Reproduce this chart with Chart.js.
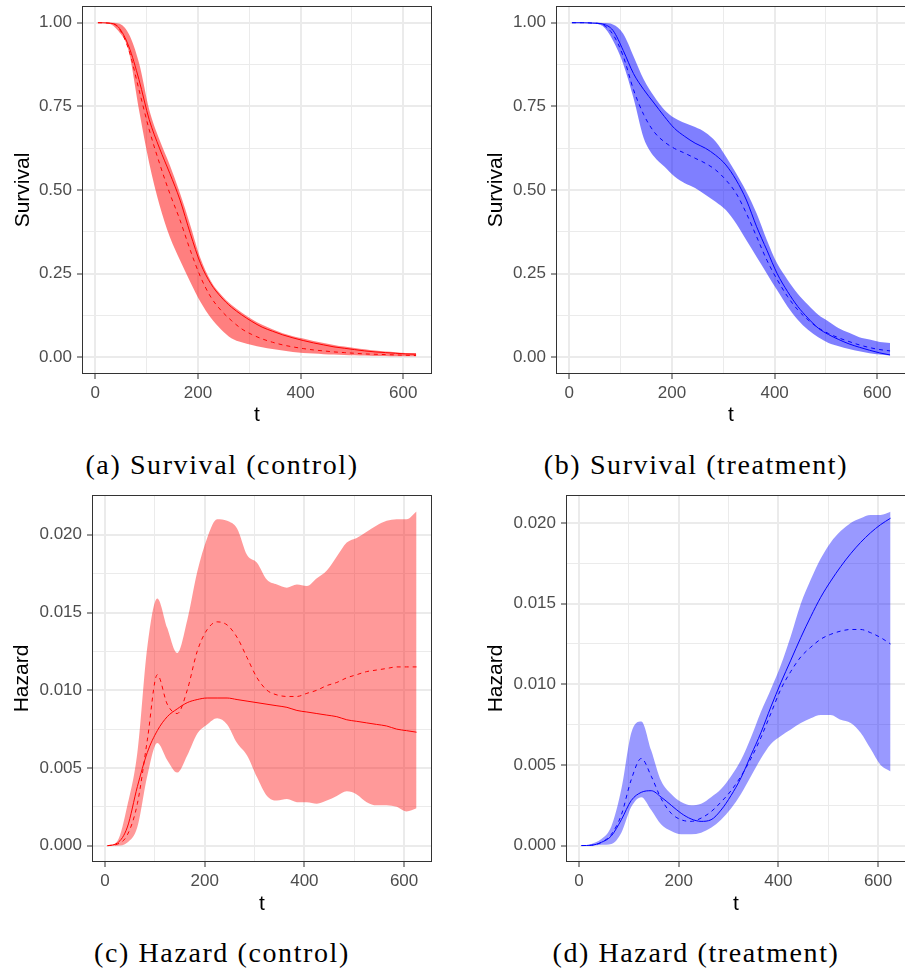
<!DOCTYPE html>
<html>
<head>
<meta charset="utf-8">
<script src="https://cdn.jsdelivr.net/npm/chart.js@4.4.1/dist/chart.umd.min.js"></script>
<style>
  html, body { margin: 0; padding: 0; background: #ffffff; }
  body { position: relative; width: 905px; height: 974px; overflow: hidden; }
  canvas { position: absolute; }
  .caption {
    position: absolute;
    width: 420px;
    text-align: center;
    font-family: "Liberation Serif", "Times New Roman", serif;
    font-size: 28px;
    line-height: 28px;
    letter-spacing: 1.6px;
    color: #000000;
    white-space: nowrap;
  }
</style>
</head>
<body>
<canvas id="survCtrl" width="452" height="430" style="left:0px;top:0px"></canvas>
<canvas id="survTrt" width="460" height="430" style="left:452px;top:0px"></canvas>
<canvas id="hazCtrl" width="452" height="430" style="left:0px;top:490px"></canvas>
<canvas id="hazTrt" width="460" height="430" style="left:452px;top:490px"></canvas>

<div class="caption" style="left:12px;top:451px">(a) Survival (control)</div>
<div class="caption" style="left:486px;top:451px">(b) Survival (treatment)</div>
<div class="caption" style="left:12px;top:939px">(c) Hazard (control)</div>
<div class="caption" style="left:486px;top:939px">(d) Hazard (treatment)</div>

<script>
// time points the curves were read at
const tGrid = [5, 25, 45, 65, 85, 105, 125, 145, 165, 185, 205, 225, 245, 265, 285, 305,
               325, 345, 365, 385, 405, 425, 445, 465, 485, 505, 525, 545, 565, 585, 605, 625];

// axis ticks (major ones get labels, the rest are minor grid lines)
const tTicks = [0, 100, 200, 300, 400, 500, 600];
const survTicks = [0, 0.125, 0.25, 0.375, 0.5, 0.625, 0.75, 0.875, 1];
const hazTicks = [0, 0.0025, 0.005, 0.0075, 0.01, 0.0125, 0.015, 0.0175, 0.02];

// (a) survival, control
const survCtrlSolid = [1.000, 0.999, 0.987, 0.930, 0.830, 0.710, 0.625, 0.550, 0.470, 0.370, 0.280, 0.220, 0.180, 0.150, 0.127, 0.107,
                       0.090, 0.078, 0.067, 0.058, 0.050, 0.043, 0.037, 0.031, 0.027, 0.023, 0.019, 0.016, 0.014, 0.012, 0.010, 0.009];
const survCtrlDashed = [1.000, 0.999, 0.985, 0.920, 0.800, 0.680, 0.580, 0.490, 0.410, 0.320, 0.240, 0.180, 0.140, 0.110, 0.085, 0.068,
                        0.055, 0.045, 0.037, 0.031, 0.026, 0.022, 0.019, 0.016, 0.014, 0.012, 0.010, 0.009, 0.008, 0.007, 0.006, 0.005];
const survCtrlLower = [1.000, 0.998, 0.975, 0.915, 0.740, 0.580, 0.455, 0.360, 0.290, 0.225, 0.165, 0.118, 0.083, 0.057, 0.045, 0.037,
                       0.030, 0.025, 0.020, 0.016, 0.013, 0.011, 0.009, 0.008, 0.007, 0.006, 0.005, 0.004, 0.004, 0.003, 0.003, 0.003];
const survCtrlUpper = [1.000, 1.000, 0.998, 0.967, 0.880, 0.740, 0.650, 0.575, 0.490, 0.395, 0.295, 0.228, 0.187, 0.157, 0.134, 0.114,
                       0.097, 0.084, 0.072, 0.063, 0.056, 0.049, 0.043, 0.037, 0.032, 0.028, 0.024, 0.020, 0.017, 0.015, 0.013, 0.013];

// (b) survival, treatment
const survTrtSolid = [1.000, 1.000, 0.999, 0.996, 0.977, 0.917, 0.848, 0.800, 0.760, 0.720, 0.684, 0.660, 0.640, 0.625, 0.604, 0.575,
                      0.530, 0.470, 0.390, 0.320, 0.250, 0.197, 0.152, 0.117, 0.087, 0.068, 0.053, 0.040, 0.030, 0.021, 0.013, 0.007];
const survTrtDashed = [1.000, 1.000, 0.999, 0.994, 0.965, 0.900, 0.800, 0.725, 0.674, 0.644, 0.624, 0.610, 0.595, 0.580, 0.560, 0.530,
                       0.490, 0.430, 0.360, 0.290, 0.232, 0.182, 0.142, 0.112, 0.088, 0.071, 0.058, 0.047, 0.037, 0.029, 0.023, 0.019];
const survTrtLower = [1.000, 1.000, 0.998, 0.990, 0.947, 0.877, 0.775, 0.655, 0.600, 0.570, 0.540, 0.520, 0.506, 0.486, 0.465, 0.440,
                      0.400, 0.350, 0.300, 0.250, 0.200, 0.152, 0.112, 0.082, 0.060, 0.043, 0.033, 0.025, 0.018, 0.012, 0.008, 0.005];
const survTrtUpper = [1.000, 1.000, 1.000, 0.999, 0.995, 0.967, 0.900, 0.830, 0.780, 0.740, 0.715, 0.700, 0.688, 0.672, 0.645, 0.600,
                      0.550, 0.495, 0.430, 0.350, 0.280, 0.232, 0.190, 0.157, 0.127, 0.107, 0.087, 0.073, 0.060, 0.053, 0.046, 0.043];

// (c) hazard, control
const hazCtrlSolid = [0, 0.00017, 0.0012, 0.0038, 0.0060, 0.0074, 0.0083, 0.0088, 0.0092, 0.0094, 0.0095, 0.0095, 0.0095, 0.0094, 0.0093, 0.0092,
                      0.0091, 0.0090, 0.0089, 0.0087, 0.0086, 0.0085, 0.0084, 0.0083, 0.0081, 0.0080, 0.0079, 0.0078, 0.0077, 0.0075, 0.0074, 0.0073];
const hazCtrlDashed = [0, 0.0001, 0.0007, 0.0027, 0.0068, 0.0110, 0.0091, 0.0085, 0.0100, 0.0125, 0.0139, 0.0144, 0.0142, 0.0134, 0.0121, 0.0108,
                       0.0100, 0.0097, 0.0096, 0.0096, 0.0098, 0.0100, 0.0103, 0.0105, 0.0108, 0.0110, 0.0112, 0.0113, 0.0114, 0.0115, 0.0115, 0.0115];
const hazCtrlLower = [0, 0, 0.0002, 0.0012, 0.0045, 0.0066, 0.0055, 0.0047, 0.0058, 0.0072, 0.0078, 0.0082, 0.0078, 0.0066, 0.0058, 0.0044,
                      0.0032, 0.0029, 0.0030, 0.0028, 0.0028, 0.0027, 0.0029, 0.0032, 0.0035, 0.0033, 0.0028, 0.0026, 0.0026, 0.0025, 0.0022, 0.0024];
const hazCtrlUpper = [0, 0.0003, 0.0026, 0.0060, 0.0128, 0.0159, 0.0140, 0.0124, 0.0145, 0.0176, 0.0198, 0.0210, 0.0209, 0.0204, 0.0187, 0.0182,
                      0.0171, 0.0168, 0.0166, 0.0168, 0.0167, 0.0172, 0.0177, 0.0186, 0.0195, 0.0198, 0.0202, 0.0206, 0.0209, 0.0210, 0.0210, 0.0215];

// (d) hazard, treatment
const hazTrtSolid = [0, 0.00002, 0.0002, 0.0006, 0.0016, 0.0028, 0.0033, 0.0034, 0.0030, 0.0025, 0.0020, 0.00165, 0.0015, 0.0016, 0.0022, 0.0031,
                     0.0042, 0.0056, 0.0070, 0.0086, 0.0101, 0.0115, 0.0129, 0.0142, 0.0154, 0.0164, 0.0173, 0.0181, 0.0188, 0.0194, 0.0199, 0.0203];
const hazTrtDashed = [0, 0.00002, 0.0002, 0.0007, 0.0019, 0.0041, 0.0054, 0.0043, 0.0029, 0.0020, 0.0016, 0.0015, 0.0017, 0.0021, 0.0027, 0.0034,
                      0.0043, 0.0054, 0.0067, 0.0082, 0.0097, 0.0108, 0.0117, 0.0123, 0.0128, 0.0131, 0.0133, 0.0134, 0.0134, 0.0132, 0.0129, 0.0125];
const hazTrtLower = [0, 0, 0.00005, 0.0001, 0.0008, 0.0024, 0.0030, 0.0022, 0.0013, 0.0009, 0.0007, 0.0007, 0.0008, 0.0011, 0.0016, 0.0023,
                     0.0032, 0.0043, 0.0054, 0.0063, 0.0068, 0.0072, 0.0076, 0.0079, 0.0081, 0.0081, 0.0078, 0.0076, 0.0070, 0.0060, 0.0050, 0.0046];
const hazTrtUpper = [0, 0.0001, 0.0004, 0.0012, 0.0035, 0.0070, 0.0077, 0.0059, 0.0040, 0.0032, 0.0027, 0.0025, 0.0026, 0.0030, 0.0035, 0.0043,
                     0.0053, 0.0067, 0.0083, 0.0097, 0.0112, 0.0130, 0.0150, 0.0165, 0.0178, 0.0188, 0.0195, 0.0200, 0.0203, 0.0205, 0.0205, 0.0207];

Chart.defaults.font.family = '"Liberation Sans", Arial, Helvetica, sans-serif';
Chart.defaults.devicePixelRatio = 1;

// ggplot style panel frame
const panelBorder = {
  id: 'panelBorder',
  afterDatasetsDraw(chart) {
    const { ctx, chartArea: a } = chart;
    ctx.save();
    ctx.strokeStyle = '#333333';
    ctx.lineWidth = 1;
    ctx.strokeRect(Math.round(a.left) + 0.5, Math.round(a.top) + 0.5,
                   Math.round(a.right - a.left) - 1, Math.round(a.bottom - a.top) - 1);
    ctx.restore();
  }
};

const pts = (ys) => tGrid.map((t, i) => ({ x: t, y: ys[i] }));
const isMajor = (v, step) => Math.abs(v / step - Math.round(v / step)) < 1e-6;

function gridOpts(step) {
  return {
    color: '#EBEBEB',
    lineWidth: (c) => (c.tick && isMajor(c.tick.value, step) ? 2 : 1),
    tickColor: (c) => (c.tick && isMajor(c.tick.value, step) ? '#333333' : 'rgba(0,0,0,0)'),
    tickLength: 5,
    tickWidth: 1,
    drawTicks: true
  };
}

function makePanel(id, box, yAxis, series, lineColor, bandColor) {
  const ctx = document.getElementById(id);
  new Chart(ctx, {
    type: 'line',
    data: {
      datasets: [
        { data: pts(series.solid), borderColor: lineColor, borderWidth: 1, pointRadius: 0,
          cubicInterpolationMode: 'monotone', fill: false },
        { data: pts(series.dashed), borderColor: lineColor, borderWidth: 1, borderDash: [4, 4], pointRadius: 0,
          cubicInterpolationMode: 'monotone', fill: false },
        { data: pts(series.lower), borderColor: 'rgba(0,0,0,0)', borderWidth: 0, pointRadius: 0,
          cubicInterpolationMode: 'monotone', fill: false },
        { data: pts(series.upper), borderColor: 'rgba(0,0,0,0)', borderWidth: 0, pointRadius: 0,
          cubicInterpolationMode: 'monotone', fill: '-1', backgroundColor: bandColor }
      ]
    },
    options: {
      responsive: false,
      animation: false,
      events: [],
      layout: { padding: { top: box.pt, right: box.pr, left: 0, bottom: 0 } },
      plugins: { legend: { display: false }, tooltip: { enabled: false } },
      scales: {
        x: {
          type: 'linear',
          min: -26,
          max: 656,
          afterBuildTicks: (s) => { s.ticks = tTicks.map((v) => ({ value: v })); },
          afterFit: (s) => { s.height = box.xH; s.paddingLeft = 0; s.paddingRight = 0; },
          grid: gridOpts(200),
          border: { display: false },
          ticks: {
            autoSkip: false, maxRotation: 0, padding: 4, color: '#4D4D4D',
            font: { size: 17 },
            callback: (v) => (isMajor(v, 200) ? String(v) : '')
          },
          title: { display: true, text: 't', color: '#000000', font: { size: 21 },
                   padding: { top: 0, bottom: box.xtPad } }
        },
        y: {
          type: 'linear',
          min: yAxis.min,
          max: yAxis.max,
          afterBuildTicks: (s) => { s.ticks = yAxis.ticks.map((v) => ({ value: v })); },
          afterFit: (s) => { s.width = box.yW; s.paddingTop = 0; s.paddingBottom = 0; },
          grid: gridOpts(yAxis.step),
          border: { display: false },
          ticks: {
            autoSkip: false, padding: 5, color: '#4D4D4D',
            font: { size: 17 },
            callback: (v) => (isMajor(v, yAxis.step) ? v.toFixed(yAxis.digits) : '')
          },
          title: { display: true, text: yAxis.title, color: '#000000', font: { size: 21 },
                   padding: { top: box.ytPad, bottom: 0 } }
        }
      }
    },
    plugins: [panelBorder]
  });
}

const survAxis = { min: -0.05, max: 1.05, ticks: survTicks, step: 0.25, digits: 2, title: 'Survival' };

makePanel('survCtrl', { pt: 6, pr: 20, yW: 82, xH: 56, ytPad: 11, xtPad: 2 }, survAxis,
  { solid: survCtrlSolid, dashed: survCtrlDashed, lower: survCtrlLower, upper: survCtrlUpper },
  '#FF0000', 'rgba(255,0,0,0.5)');

makePanel('survTrt', { pt: 6, pr: 6, yW: 104, xH: 56, ytPad: 32, xtPad: 2 }, survAxis,
  { solid: survTrtSolid, dashed: survTrtDashed, lower: survTrtLower, upper: survTrtUpper },
  '#0000FF', 'rgba(0,0,255,0.5)');

makePanel('hazCtrl', { pt: 5, pr: 20, yW: 92, xH: 58, ytPad: 10, xtPad: 3 },
  { min: -0.00105, max: 0.02256, ticks: hazTicks, step: 0.005, digits: 3, title: 'Hazard' },
  { solid: hazCtrlSolid, dashed: hazCtrlDashed, lower: hazCtrlLower, upper: hazCtrlUpper },
  '#FF0000', 'rgba(255,0,0,0.4)');

makePanel('hazTrt', { pt: 5, pr: 6, yW: 114, xH: 58, ytPad: 32, xtPad: 3 },
  { min: -0.00102, max: 0.02174, ticks: hazTicks, step: 0.005, digits: 3, title: 'Hazard' },
  { solid: hazTrtSolid, dashed: hazTrtDashed, lower: hazTrtLower, upper: hazTrtUpper },
  '#0000FF', 'rgba(0,0,255,0.4)');
</script>
</body>
</html>
